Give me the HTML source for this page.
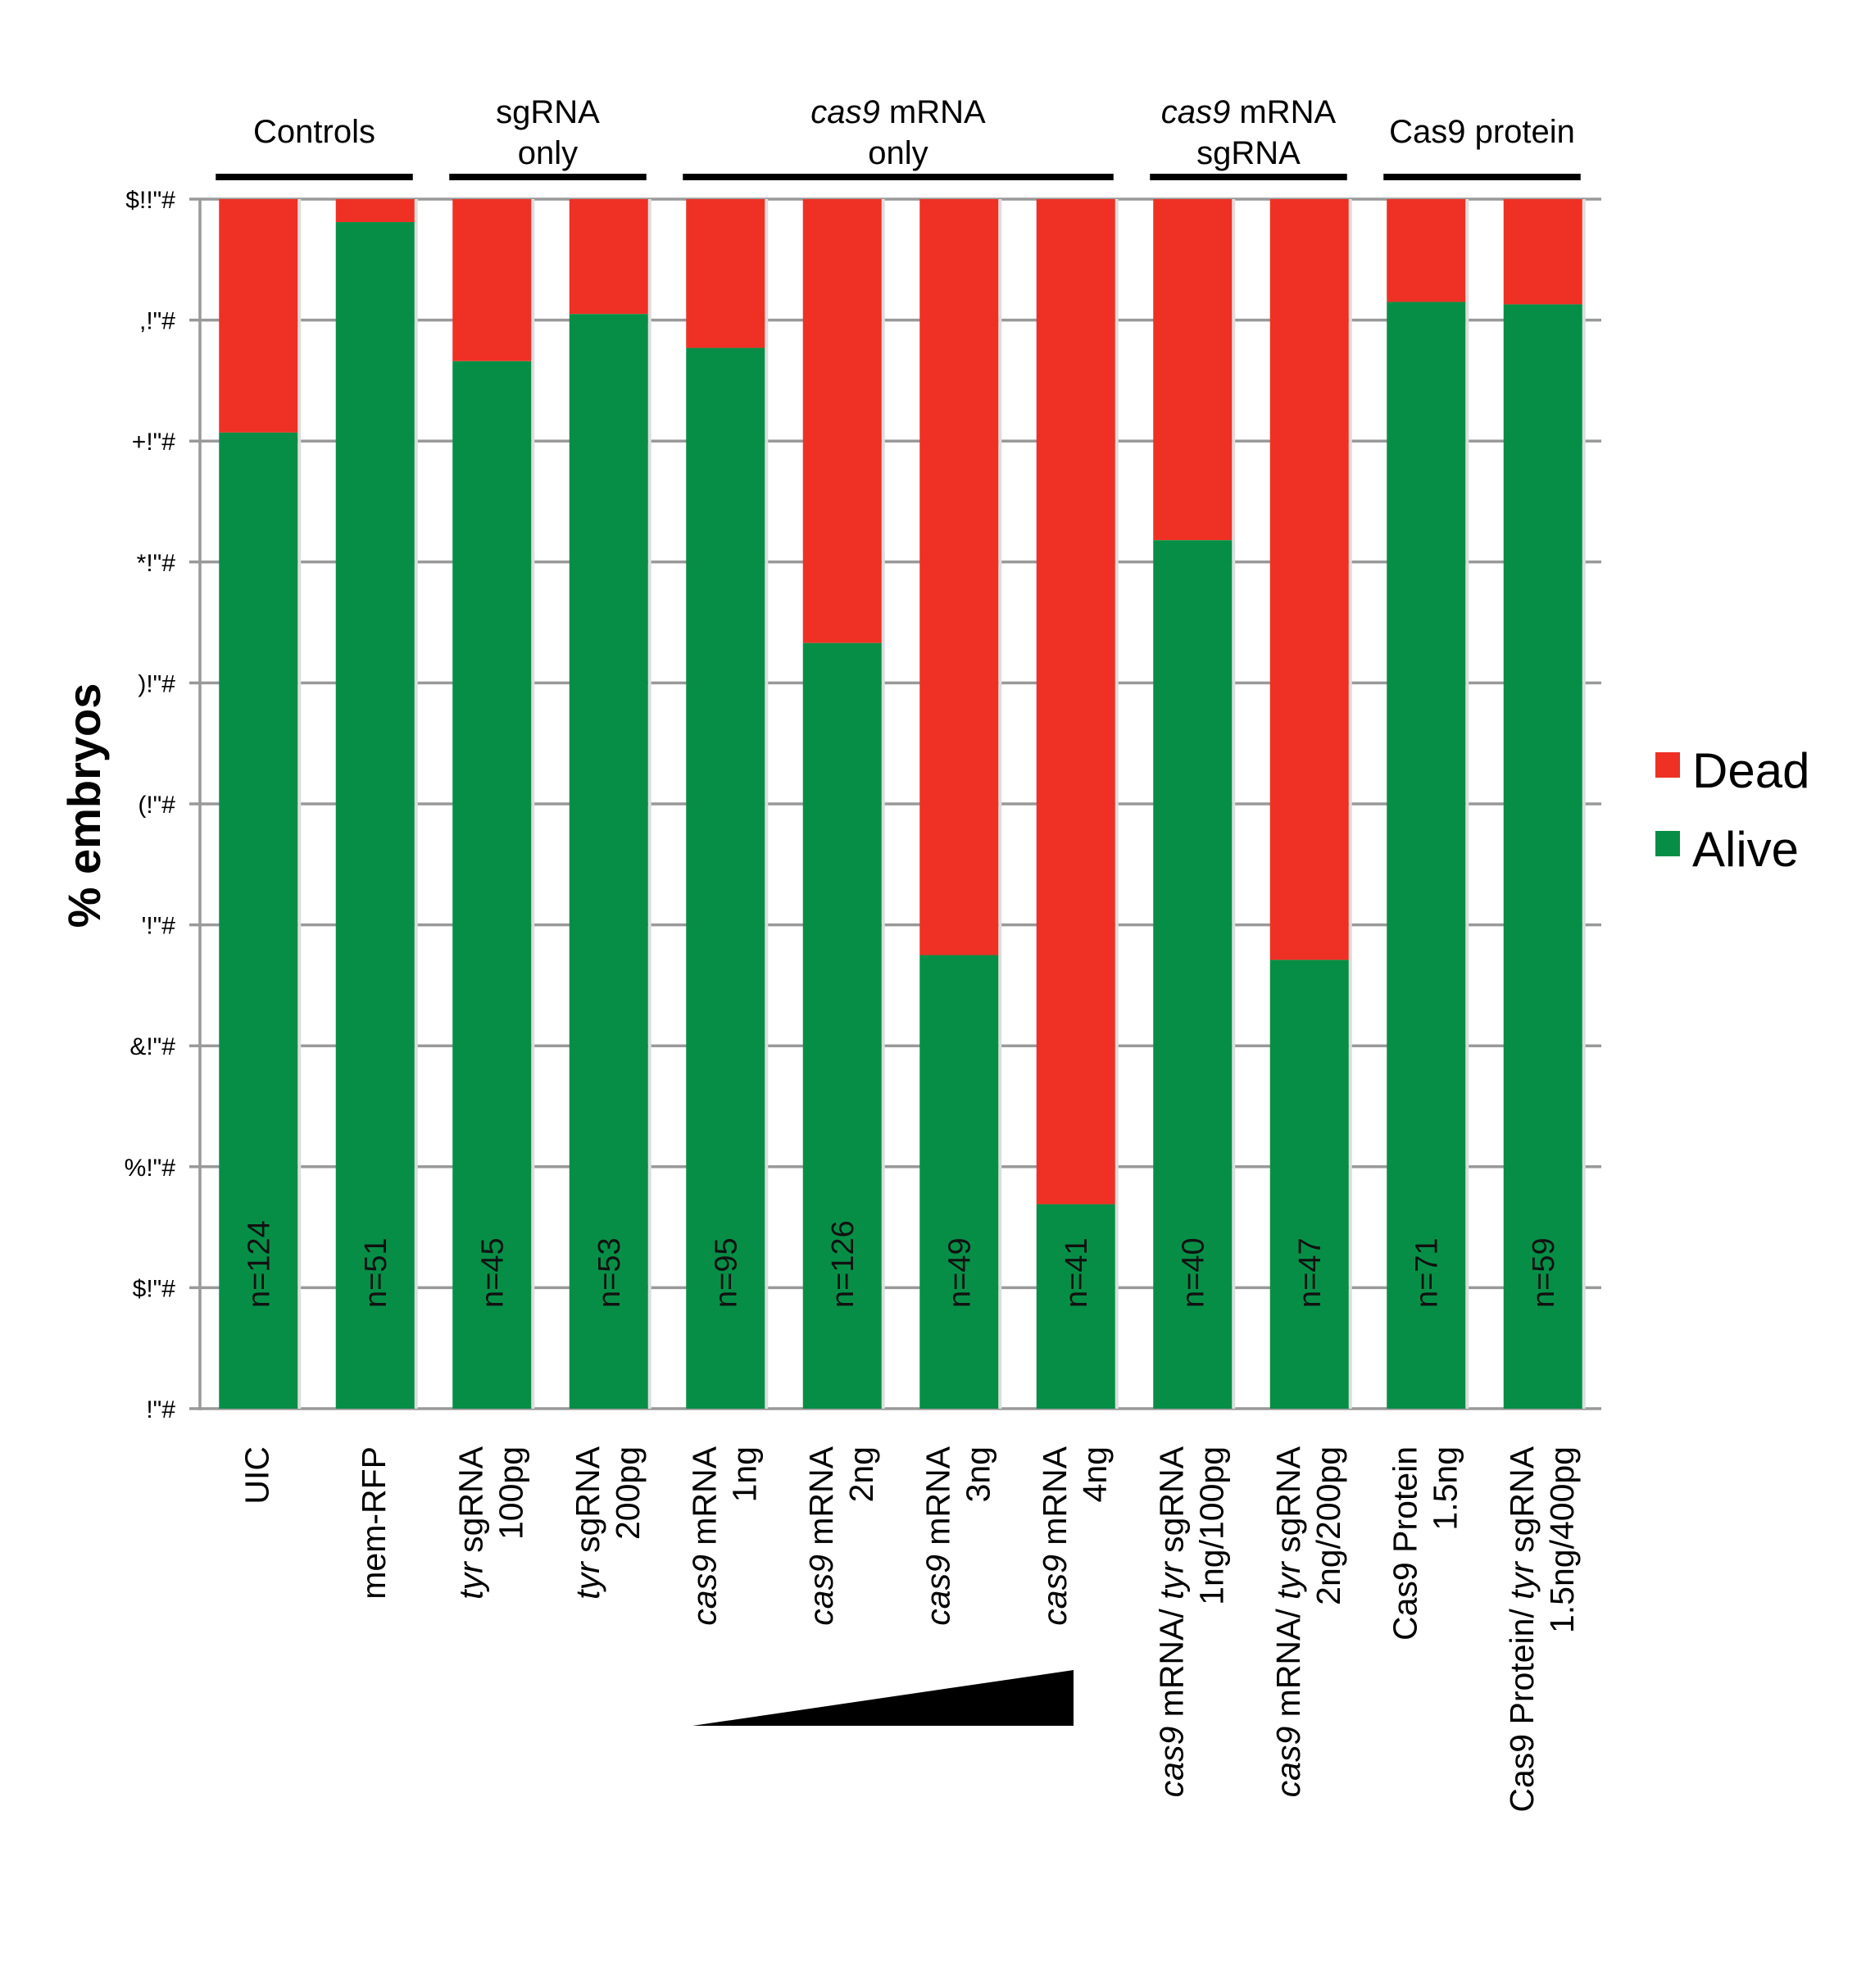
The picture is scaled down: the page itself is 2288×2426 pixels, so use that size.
<!DOCTYPE html>
<html><head><meta charset="utf-8"><style>
html,body{margin:0;padding:0;background:#fff}
svg{display:block}
text{font-family:"Liberation Sans",sans-serif}
</style></head><body>
<svg id="chart" width="2288" height="2426" viewBox="0 0 2288 2426" xmlns="http://www.w3.org/2000/svg">
<g id="grid"></g>
<g id="bars"></g>
<g id="axis"></g>
<g id="xlabels"></g>
<g id="groups"></g>
<text transform="translate(122,983) rotate(-90)" text-anchor="middle" font-size="56" font-weight="bold">% embryos</text>
<polygon points="845,2106 1310,2038 1310,2106" fill="#000"/>
<g>
<rect x="2020" y="918" width="30" height="31" fill="#ee3124"/>
<text x="2065" y="961" font-size="60">Dead</text>
<rect x="2020" y="1014" width="30" height="31" fill="#078e46"/>
<text x="2065" y="1057" font-size="60">Alive</text>
</g>
</svg>
<script>
const categories = ["UIC","mem-RFP","tyr sgRNA 100pg","tyr sgRNA 200pg","cas9 mRNA 1ng","cas9 mRNA 2ng","cas9 mRNA 3ng","cas9 mRNA 4ng","cas9 mRNA/ tyr sgRNA 1ng/100pg","cas9 mRNA/ tyr sgRNA 2ng/200pg","Cas9 Protein 1.5ng","Cas9 Protein/ tyr sgRNA 1.5ng/400pg"];
const alive = [80.7, 98.1, 86.6, 90.5, 87.7, 63.3, 37.5, 16.9, 71.8, 37.1, 91.5, 91.3];
const nLabels = ["n=124","n=51","n=45","n=53","n=95","n=126","n=49","n=41","n=40","n=47","n=71","n=59"];
const tickValues = [0,10,20,30,40,50,60,70,80,90,100];
const tickLabels = ['!"#','$!"#','%!"#','&!"#','\'!"#','(!"#',')!"#','*!"#','+!"#',',!"#','$!!"#'];
const labelLine1 = [["","UIC"],["","mem-RFP"],["tyr"," sgRNA"],["tyr"," sgRNA"],["cas9"," mRNA"],["cas9"," mRNA"],["cas9"," mRNA"],["cas9"," mRNA"],["cas9"," mRNA/ |tyr| sgRNA"],["cas9"," mRNA/ |tyr| sgRNA"],["","Cas9 Protein"],["","Cas9 Protein/ |tyr| sgRNA"]];
const labelLine2 = ["","","100pg","200pg","1ng","2ng","3ng","4ng","1ng/100pg","2ng/200pg","1.5ng","1.5ng/400pg"];
const groupNames = [["Controls"],["sgRNA","only"],["|cas9| mRNA","only"],["|cas9| mRNA","sgRNA"],["Cas9 protein"]];
const groupStart = [0,2,4,8,10];
const groupEnd = [1,3,7,9,11];

const NS="http://www.w3.org/2000/svg";
const X0=244, X1=1954, Y0=1719, YTOP=243;
const step=(X1-X0)/categories.length, bw=96;
const y = v => Y0 - (v/100)*(Y0-YTOP);
const xc = i => X0 + step*(i+0.5);
function mk(tag, attrs, parent){const e=document.createElementNS(NS,tag);for(const k in attrs)e.setAttribute(k,attrs[k]);parent.appendChild(e);return e;}
function richText(el, str){
  str.split("|").forEach((p,j)=>{ if(!p)return; const t=mk("tspan",{},el); if(j%2===1)t.setAttribute("font-style","italic"); t.textContent=p; });
}
const grid=document.getElementById("grid"), bars=document.getElementById("bars"), axis=document.getElementById("axis"), xl=document.getElementById("xlabels"), groups=document.getElementById("groups");
tickValues.forEach((v,i)=>{
  const l=mk("line",{x1:231,x2:X1,y1:y(v),y2:y(v),stroke:"#999","stroke-width":3.5},grid);
  
  
  const t=mk("text",{x:214,y:y(v)+11,"text-anchor":"end","font-size":30},axis);
  
  
  t.textContent=tickLabels[i];
});
const ax=mk("line",{x1:X0,x2:X0,y1:YTOP,y2:Y0+2,stroke:"#999","stroke-width":3.5},axis);


categories.forEach((c,i)=>{
  const x=xc(i)-bw/2;
  const sh=mk("rect",{x:x+bw,y:YTOP,width:4,height:Y0-YTOP,fill:"#ddd"},bars);
  
  
  const d=mk("rect",{x:x,y:YTOP,width:bw,height:y(alive[i])-YTOP,fill:"#ee3124"},bars);
  
  
  const a=mk("rect",{x:x,y:y(alive[i]),width:bw,height:Y0-y(alive[i]),fill:"#078e46"},bars);
  
  
  const n=mk("text",{transform:`translate(${xc(i)+13},1596) rotate(-90)`,"font-size":38,fill:"#111"},bars);
  
  
  n.textContent=nLabels[i];
  const two=labelLine2[i]!=="";
  const off=two?-12:12;
  const t1=mk("text",{transform:`translate(${xc(i)+off},1765) rotate(-90)`,"text-anchor":"end","font-size":41},xl);
  
  
  const l1=labelLine1[i];
  if(l1[0]){const it=mk("tspan",{"font-style":"italic"},t1);it.textContent=l1[0];}
  richText(t1,l1[1]);
  if(two){
    const t2=mk("text",{transform:`translate(${xc(i)+37},1765) rotate(-90)`,"text-anchor":"end","font-size":41},xl);
    
    
    t2.textContent=labelLine2[i];
  }
});
groupNames.forEach((g,k)=>{
  const xa=xc(groupStart[k])-bw/2-4, xb=xc(groupEnd[k])+bw/2-2;
  const r=mk("rect",{x:xa,y:212,width:xb-xa,height:8,fill:"#000"},groups);
  
  
  const cx=(xa+xb)/2;
  const ys = g.length===1?[174]:[150,200];
  g.forEach((line,j)=>{
    const t=mk("text",{x:cx,y:ys[j],"text-anchor":"middle","font-size":40},groups);
    
    
    richText(t,line);
  });
});
</script>
</body></html>
